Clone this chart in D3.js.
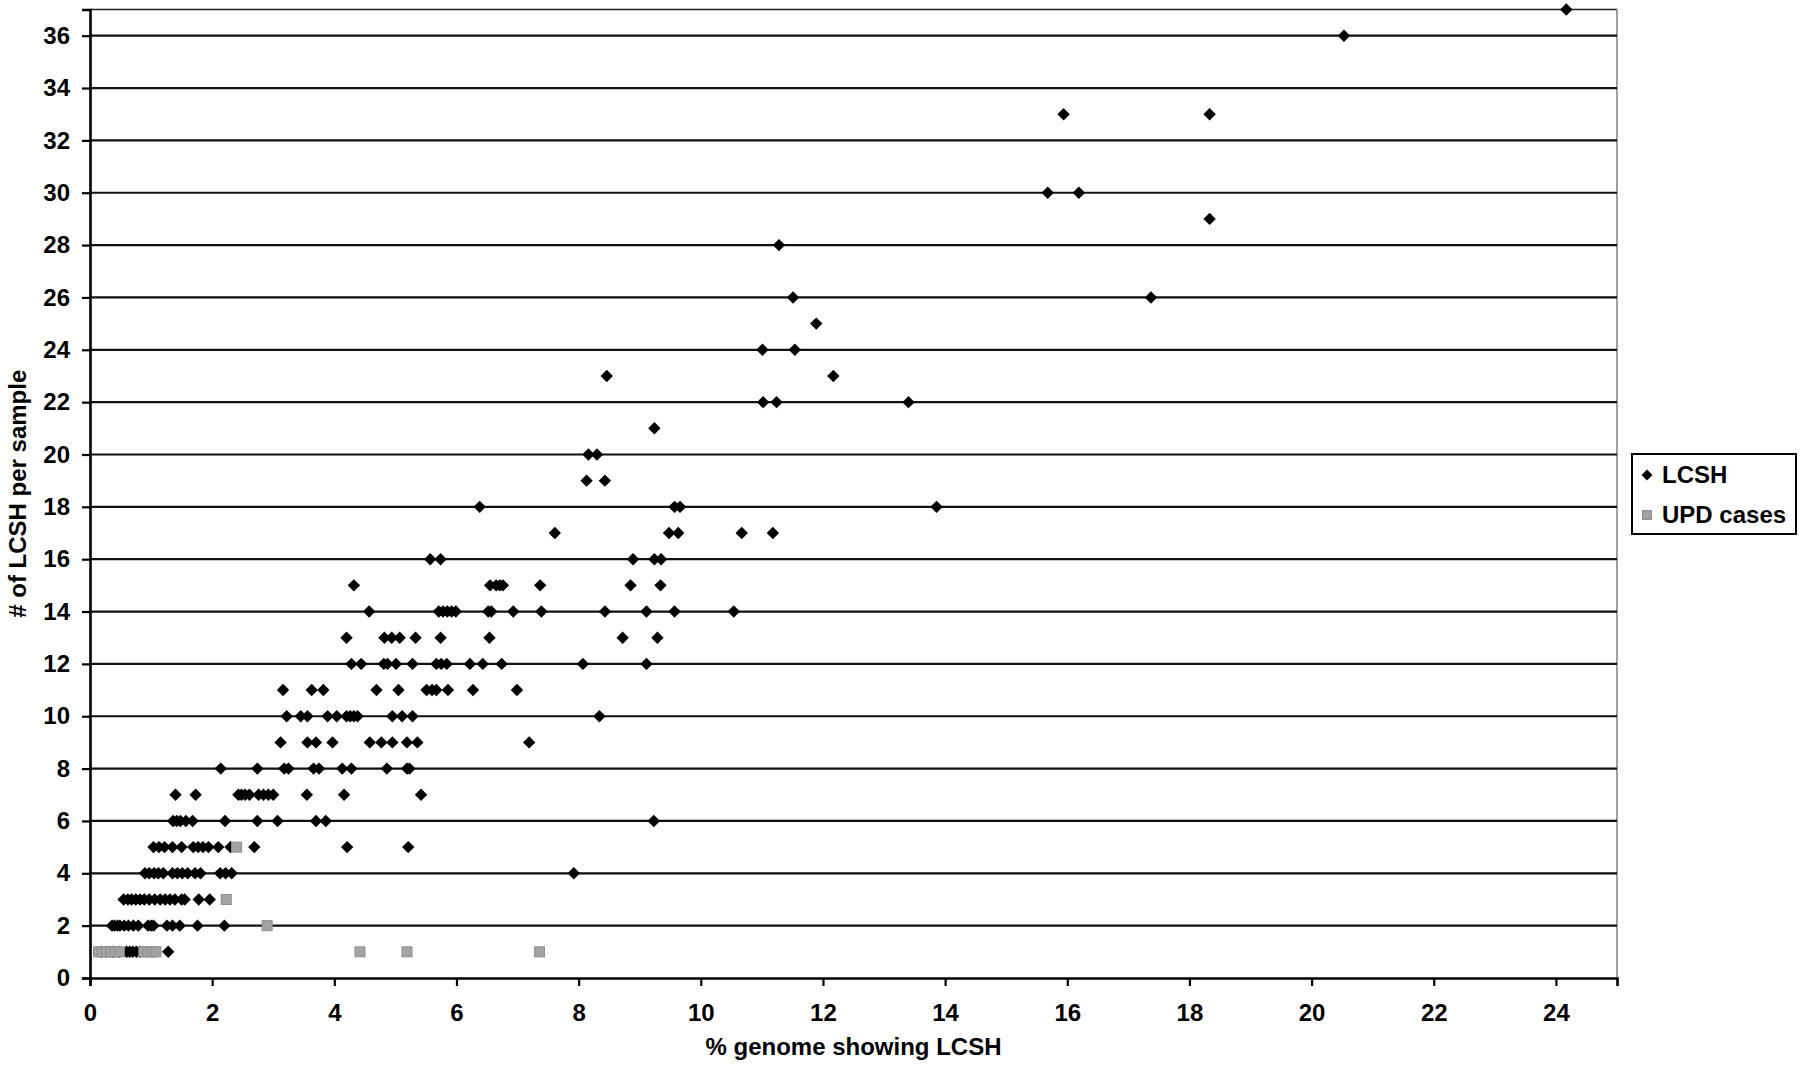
<!DOCTYPE html>
<html>
<head>
<meta charset="utf-8">
<script src="https://cdn.jsdelivr.net/npm/d3@7/dist/d3.min.js"></script>
<style>
  html, body { margin: 0; padding: 0; background: #fff; }
  svg { display: block; font-family: "Liberation Sans", Arial, sans-serif; font-weight: bold; }
</style>
</head>
<body>
<svg id="chart" width="1800" height="1077"></svg>
<script>
// ---- data ----
const xTicks = [0, 2, 4, 6, 8, 10, 12, 14, 16, 18, 20, 22, 24];
const yTicks = [0, 2, 4, 6, 8, 10, 12, 14, 16, 18, 20, 22, 24, 26, 28, 30, 32, 34, 36];
const xTitle = "% genome showing LCSH";
const yTitle = "# of LCSH per sample";
const seriesNames = ["LCSH", "UPD cases"];

// LCSH: [count per sample, [% genome values]]
const lcshRows = [
  [1, [0.18, 0.28, 0.38, 0.48, 0.60, 0.65, 0.70, 0.76, 0.82, 1.28]],
  [2, [0.36, 0.40, 0.45, 0.49, 0.56, 0.63, 0.71, 0.79, 0.95, 1.00, 1.04, 1.26, 1.35, 1.47, 1.76, 2.20]],
  [3, [0.55, 0.62, 0.68, 0.75, 0.82, 0.89, 0.97, 1.06, 1.15, 1.23, 1.31, 1.39, 1.50, 1.55, 1.78, 1.96]],
  [4, [0.90, 0.97, 1.05, 1.12, 1.20, 1.35, 1.43, 1.51, 1.60, 1.72, 1.81, 2.13, 2.22, 2.32, 7.92]],
  [5, [1.04, 1.13, 1.22, 1.35, 1.50, 1.69, 1.77, 1.85, 1.94, 2.10, 2.30, 2.69, 4.21, 5.21]],
  [6, [1.36, 1.42, 1.48, 1.57, 1.68, 2.21, 2.74, 3.07, 3.70, 3.86, 9.23]],
  [7, [1.40, 1.73, 2.43, 2.48, 2.54, 2.61, 2.76, 2.84, 2.92, 3.00, 3.55, 4.16, 5.42]],
  [8, [2.14, 2.74, 3.18, 3.25, 3.66, 3.75, 4.13, 4.28, 4.86, 5.19, 5.23]],
  [9, [3.12, 3.56, 3.70, 3.97, 4.58, 4.77, 4.95, 5.19, 5.36, 7.19]],
  [10, [3.22, 3.45, 3.56, 3.89, 4.04, 4.20, 4.26, 4.32, 4.38, 4.95, 5.11, 5.28, 8.34]],
  [11, [3.16, 3.63, 3.82, 4.69, 5.05, 5.51, 5.60, 5.67, 5.86, 6.27, 6.99]],
  [12, [4.28, 4.44, 4.81, 4.87, 5.01, 5.28, 5.67, 5.75, 5.84, 6.22, 6.43, 6.74, 8.07, 9.11]],
  [13, [4.20, 4.82, 4.94, 5.07, 5.33, 5.74, 6.54, 8.72, 9.29]],
  [14, [4.57, 5.71, 5.78, 5.85, 5.92, 5.99, 6.52, 6.57, 6.93, 7.39, 8.43, 9.11, 9.57, 10.54]],
  [15, [4.32, 6.55, 6.65, 6.71, 6.76, 7.37, 8.85, 9.34]],
  [16, [5.57, 5.74, 8.89, 9.24, 9.35]],
  [17, [7.61, 9.48, 9.63, 10.67, 11.18]],
  [18, [6.38, 9.57, 9.66, 13.86]],
  [19, [8.13, 8.43]],
  [20, [8.16, 8.30]],
  [21, [9.24]],
  [22, [11.02, 11.24, 13.40]],
  [23, [8.46, 12.17]],
  [24, [11.01, 11.54]],
  [25, [11.89]],
  [26, [11.51, 17.37]],
  [28, [11.28]],
  [29, [18.33]],
  [30, [15.68, 16.19]],
  [33, [15.94, 18.33]],
  [36, [20.53]],
  [37, [24.17]]
];

// UPD cases: [count per sample, [% genome values]]
const updRows = [
  [1, [0.14, 0.20, 0.27, 0.34, 0.41, 0.48, 0.88, 0.95, 1.02, 1.08, 4.42, 5.19, 7.36]],
  [2, [2.90]],
  [3, [2.23]],
  [5, [2.40]]
];

// ---- layout ----
const svg = d3.select("#chart");
const mLeft = 90, mRight = 1617, mTop = 9.5, mBottom = 978;
const x = d3.scaleLinear().domain([0, 25]).range([mLeft, mRight]);
const y = d3.scaleLinear().domain([0, 37]).range([mBottom, mTop]);

const flat = rows => rows.flatMap(([c, xs]) => xs.map(v => ({x: v, y: c})));
const lcsh = flat(lcshRows);
const upd = flat(updRows);

// plot border (top / right)
svg.append("line").attr("x1", mLeft).attr("x2", mRight).attr("y1", mTop).attr("y2", mTop)
  .attr("stroke", "#222").attr("stroke-width", 1.6);
svg.append("line").attr("x1", mRight).attr("x2", mRight).attr("y1", mTop).attr("y2", mBottom)
  .attr("stroke", "#888").attr("stroke-width", 1.6);

// horizontal gridlines
svg.append("g").selectAll("line").data(yTicks.filter(d => d > 0)).join("line")
  .attr("x1", mLeft).attr("x2", mRight)
  .attr("y1", d => y(d)).attr("y2", d => y(d))
  .attr("stroke", "#111").attr("stroke-width", 2.2);

// y axis
const yAxis = svg.append("g").attr("transform", `translate(${mLeft},0)`)
  .call(d3.axisLeft(y).tickValues(yTicks).tickSize(8).tickPadding(12).tickFormat(d3.format("d")));
yAxis.select(".domain").attr("stroke", "#000").attr("stroke-width", 2.6);
yAxis.selectAll(".tick line").attr("stroke", "#000").attr("stroke-width", 2.2);
yAxis.selectAll(".tick text").attr("font-size", 24).attr("font-weight", "bold")
  .attr("font-family", "'Liberation Sans', Arial, sans-serif").attr("fill", "#000");

// x axis
const xAxis = svg.append("g").attr("transform", `translate(0,${mBottom})`)
  .call(d3.axisBottom(x).tickValues(xTicks).tickSize(8).tickPadding(18).tickFormat(d3.format("d")));
xAxis.select(".domain").attr("stroke", "#000").attr("stroke-width", 2.6);
xAxis.selectAll(".tick line").attr("stroke", "#000").attr("stroke-width", 2.2);
xAxis.selectAll(".tick text").attr("font-size", 24).attr("font-weight", "bold")
  .attr("font-family", "'Liberation Sans', Arial, sans-serif").attr("fill", "#000");

// axis titles
svg.append("text").attr("x", (mLeft + mRight) / 2).attr("y", 1055)
  .attr("text-anchor", "middle").attr("font-size", 24).attr("fill", "#000").text(xTitle);
svg.append("text").attr("transform", `translate(26,${(mTop + mBottom) / 2}) rotate(-90)`)
  .attr("text-anchor", "middle").attr("font-size", 24).attr("fill", "#000").text(yTitle);

// markers
const diamond = r => `M0,${-r}L${r},0L0,${r}L${-r},0Z`;
svg.append("g").selectAll("path").data(lcsh).join("path")
  .attr("transform", d => `translate(${x(d.x)},${y(d.y)})`)
  .attr("d", diamond(6.2)).attr("fill", "#000");

svg.append("g").selectAll("rect").data(upd).join("rect")
  .attr("x", d => x(d.x) - 5).attr("y", d => y(d.y) - 5)
  .attr("width", 10).attr("height", 10)
  .attr("fill", "#a3a3a3").attr("stroke", "#8e8e8e").attr("stroke-width", 1);

// legend
const lg = svg.append("g");
lg.append("rect").attr("x", 1632).attr("y", 454).attr("width", 164).attr("height", 80)
  .attr("fill", "#fff").attr("stroke", "#000").attr("stroke-width", 2);
lg.append("path").attr("transform", "translate(1647,475)").attr("d", diamond(5.5)).attr("fill", "#000");
lg.append("rect").attr("x", 1642.5).attr("y", 510.5).attr("width", 9).attr("height", 9)
  .attr("fill", "#a3a3a3").attr("stroke", "#8e8e8e").attr("stroke-width", 1);
lg.append("text").attr("x", 1662).attr("y", 483).attr("font-size", 24).attr("fill", "#000").text(seriesNames[0]);
lg.append("text").attr("x", 1662).attr("y", 523).attr("font-size", 24).attr("fill", "#000").text(seriesNames[1]);
</script>
</body>
</html>
